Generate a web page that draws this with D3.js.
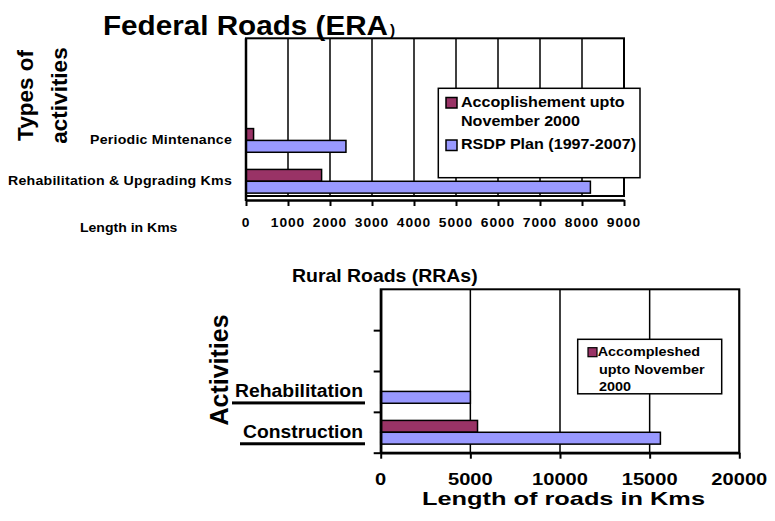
<!DOCTYPE html>
<html>
<head>
<meta charset="utf-8">
<script src="https://cdn.jsdelivr.net/npm/d3@7"></script>
<style>
  body { margin: 0; background: #fff; }
  svg text { font-family: "Liberation Sans", Arial, sans-serif; font-weight: bold; fill: #000; }
</style>
</head>
<body>
<script>
// Federal roads (ERA)
var fedCategories = ["Rehabilitation & Upgrading Kms", "Periodic Mintenance"];
var fedAccomplished = [1800, 180];
var fedPlan = [8200, 2380];
var fedTicks = [0, 1000, 2000, 3000, 4000, 5000, 6000, 7000, 8000, 9000];
var fedLegend = [["Accoplishement upto", "November 2000"], ["RSDP Plan (1997-2007)"]];

// Rural roads (RRAs)
var ruralCategories = ["Construction", "Rehabilitation"];
var ruralAccomplished = [5400, 0];
var ruralPlan = [15600, 5000];
var ruralTicks = [0, 5000, 10000, 15000, 20000];
var ruralLegend = ["Accompleshed", "upto November", "2000"];

var slots = 4; // category slots on each value axis, only the lower two are used
var maroon = "#993366", blue = "#9999ff";

var svg = d3.select("body").append("svg")
    .attr("width", 775)
    .attr("height", 521);

// text with a horizontal stretch (the source picture is widened)
function txt(g, s, x, y, size, sx, anchor) {
  return g.append("text")
    .attr("transform", "translate(" + x + "," + y + ") scale(" + sx + ",1)")
    .attr("font-size", size + "px")
    .attr("text-anchor", anchor || "start")
    .text(s);
}
// text squeezed or stretched to a given width
function txtW(g, s, x, y, size, w, anchor) {
  return g.append("text")
    .attr("x", x).attr("y", y)
    .attr("font-size", size + "px")
    .attr("text-anchor", anchor || "start")
    .attr("textLength", w).attr("lengthAdjust", "spacingAndGlyphs")
    .text(s);
}

function bars(g, x, y, acc, plan) {
  var h = y.bandwidth() * 0.29;
  var rows = acc.map(function (d, i) { return { i: i, acc: d, plan: plan[i] }; });
  g.selectAll(".acc").data(rows).enter().append("rect")
    .attr("x", x(0))
    .attr("y", function (d) { return y(d.i) + y.bandwidth() / 2 - h; })
    .attr("width", function (d) { return x(d.acc) - x(0); })
    .attr("height", h)
    .attr("fill", maroon).attr("stroke", "#000").attr("stroke-width", 1.5)
    .style("display", function (d) { return d.acc > 0 ? null : "none"; });
  g.selectAll(".plan").data(rows).enter().append("rect")
    .attr("x", x(0))
    .attr("y", function (d) { return y(d.i) + y.bandwidth() / 2; })
    .attr("width", function (d) { return x(d.plan) - x(0); })
    .attr("height", h)
    .attr("fill", blue).attr("stroke", "#000").attr("stroke-width", 1.5);
}

// ---------- top chart ----------
var x1 = d3.scaleLinear().domain([0, 9000]).range([246, 624]);
var y1 = d3.scaleBand().domain(d3.range(slots)).range([201.7, 38.3]).paddingInner(0).paddingOuter(0);
var gTop = svg.append("g");

gTop.selectAll(".grid").data(fedTicks.slice(1)).enter().append("line")
  .attr("x1", function (d) { return x1(d); }).attr("x2", function (d) { return x1(d); })
  .attr("y1", 38.3).attr("y2", 196)
  .attr("stroke", "#000").attr("stroke-width", 1.5);
gTop.append("rect").attr("x", x1(0)).attr("y", 38.3)
  .attr("width", x1(9000) - x1(0)).attr("height", 196 - 38.3)
  .attr("fill", "none").attr("stroke", "#000").attr("stroke-width", 2);

bars(gTop, x1, y1, fedAccomplished, fedPlan);

var ax1 = gTop.append("g").attr("transform", "translate(0,200)")
  .call(d3.axisBottom(x1).tickValues(fedTicks).tickSize(6).tickSizeOuter(0).tickFormat(""));
ax1.select(".domain").attr("stroke-width", 2.5);
ax1.selectAll(".tick line").attr("stroke-width", 2);
gTop.append("line").attr("x1", x1(0)).attr("x2", x1(0)).attr("y1", 38.3).attr("y2", 201)
  .attr("stroke", "#000").attr("stroke-width", 2.5);

fedTicks.forEach(function (t) {
  txt(gTop, String(t), x1(t), 226.5, 12, 1.15, "middle").attr("letter-spacing", "0.8px");
});
fedCategories.forEach(function (c, i) {
  txt(gTop, c, 232, y1(i) + y1.bandwidth() / 2 + 4, 12, 1.18, "end").attr("letter-spacing", "0.2px");
});
txt(gTop, "Length in Kms", 80, 231.5, 12, 1.17);
txtW(gTop, "Federal Roads (ERA", 103, 35, 27.5, 285);
txt(gTop, ")", 390, 35, 14, 1.1);
gTop.append("text").attr("transform", "translate(33,95.5) rotate(-90)")
  .attr("text-anchor", "middle").attr("font-size", "22.5px").text("Types of");
gTop.append("text").attr("transform", "translate(67,95.5) rotate(-90)")
  .attr("text-anchor", "middle").attr("font-size", "22.5px").text("activities");

// legend top
var lg1 = gTop.append("g");
lg1.append("rect").attr("x", 438.3).attr("y", 88.3).attr("width", 201.7).attr("height", 89.4)
  .attr("fill", "#fff").attr("stroke", "#000").attr("stroke-width", 1.5);
[maroon, blue].forEach(function (c, i) {
  var yy = i === 0 ? 97.5 : 140;
  lg1.append("rect").attr("x", 446).attr("y", yy).attr("width", 11).attr("height", 10.5)
    .attr("fill", c).attr("stroke", "#000").attr("stroke-width", 1.5);
  fedLegend[i].forEach(function (line, j) {
    txt(lg1, line, 461, yy + 9.3 + j * 19, 14, 1.15);
  });
});

// ---------- bottom chart ----------
var x2 = d3.scaleLinear().domain([0, 20000]).range([380.7, 739.3]);
var y2 = d3.scaleBand().domain(d3.range(slots)).range([452.7, 289.3]);
var yt = d3.scaleLinear().domain([0, slots]).range([452.7, 289.3]);
var gBot = svg.append("g");

gBot.selectAll(".grid").data(ruralTicks.slice(1)).enter().append("line")
  .attr("x1", function (d) { return x2(d); }).attr("x2", function (d) { return x2(d); })
  .attr("y1", 289.3).attr("y2", 452.7)
  .attr("stroke", "#000").attr("stroke-width", 1.5);
gBot.append("rect").attr("x", x2(0)).attr("y", 289.3)
  .attr("width", x2(20000) - x2(0)).attr("height", 452.7 - 289.3)
  .attr("fill", "none").attr("stroke", "#000").attr("stroke-width", 2);

bars(gBot, x2, y2, ruralAccomplished, ruralPlan);

var ax2 = gBot.append("g").attr("transform", "translate(0,452.7)")
  .call(d3.axisBottom(x2).tickValues(ruralTicks).tickSize(6).tickSizeOuter(0).tickFormat(""));
ax2.select(".domain").attr("stroke-width", 2.5);
ax2.selectAll(".tick line").attr("stroke-width", 2);
var ay2 = gBot.append("g").attr("transform", "translate(380.7,0)")
  .call(d3.axisLeft(yt).tickValues(d3.range(slots)).tickSize(7).tickSizeOuter(0).tickFormat(""));
ay2.select(".domain").attr("stroke-width", 2.5);
ay2.selectAll(".tick line").attr("stroke-width", 2);

ruralTicks.forEach(function (t) {
  txt(gBot, String(t), x2(t), 485, 16.5, 1.22, "middle");
});
var ruralLabelW = [120, 128]; // widths of the underlined category labels
ruralCategories.forEach(function (c, i) {
  var yy = y2(i) + y2.bandwidth() / 2 + 6;
  txtW(gBot, c, 363, yy, 18, ruralLabelW[i], "end");
  gBot.append("rect").attr("x", 363 - ruralLabelW[i] - 3).attr("y", yy + 4)
    .attr("width", ruralLabelW[i] + 5).attr("height", 3).attr("fill", "#000");
});
txt(gBot, "Rural Roads (RRAs)", 292, 282, 18, 1.08);
txtW(gBot, "Length of roads in Kms", 422, 505, 18.5, 283);
gBot.append("text").attr("transform", "translate(228,370) rotate(-90)")
  .attr("text-anchor", "middle").attr("font-size", "25px").text("Activities");

// legend bottom
var lg2 = gBot.append("g");
lg2.append("rect").attr("x", 577.7).attr("y", 339.3).attr("width", 144).attr("height", 54.5)
  .attr("fill", "#fff").attr("stroke", "#000").attr("stroke-width", 1.5);
lg2.append("rect").attr("x", 588).attr("y", 347.7).attr("width", 9).attr("height", 9)
  .attr("fill", maroon).attr("stroke", "#000").attr("stroke-width", 1.2);
ruralLegend.forEach(function (line, j) {
  txt(lg2, line, j === 0 ? 597.7 : 599, 356 + j * 17.5, 12, 1.2);
});
</script>
</body>
</html>
